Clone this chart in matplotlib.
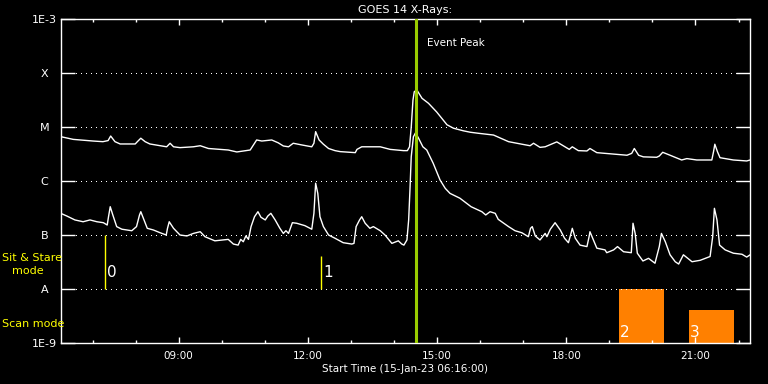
import matplotlib
matplotlib.use('Agg')
import matplotlib.pyplot as plt
from matplotlib.ticker import FixedLocator, NullLocator

# ---------------- data ----------------
# GOES 14 long channel (1-8 A), hours of day (15-Jan-23)
long_hours = [6.27, 6.55, 7.01, 7.24, 7.36, 7.42, 7.52, 7.64, 7.99, 8.04,
              8.12, 8.22, 8.33, 8.72, 8.80, 8.88, 9.03, 9.34, 9.50, 9.69,
              10.15, 10.35, 10.66, 10.81, 10.93, 11.16, 11.31, 11.43, 11.55, 11.66,
              11.86, 12.09, 12.14, 12.18, 12.26, 12.36, 12.48, 12.63, 12.75, 13.10,
              13.14, 13.25, 13.52, 13.68, 13.91, 14.22, 14.31, 14.36, 14.40, 14.44,
              14.47, 14.53, 14.65, 14.80, 14.99, 15.23, 15.38, 15.61, 15.77, 15.96,
              16.31, 16.66, 16.97, 17.16, 17.24, 17.39, 17.51, 17.78, 17.97, 18.07,
              18.14, 18.28, 18.48, 18.55, 18.71, 18.90, 19.10, 19.41, 19.52, 19.58,
              19.68, 19.79, 20.10, 20.16, 20.24, 20.41, 20.68, 20.80, 21.03, 21.38,
              21.42, 21.45, 21.51, 21.57, 21.88, 22.19, 22.27]
long_flux = [6.6e-6, 5.9e-6, 5.5e-6, 5.35e-6, 5.6e-6, 6.8e-6, 5.35e-6, 4.85e-6, 4.85e-6, 5.35e-6,
             6.2e-6, 5.35e-6, 4.85e-6, 4.3e-6, 5.0e-6, 4.3e-6, 4.15e-6, 4.3e-6, 4.5e-6, 4.0e-6,
             3.75e-6, 3.45e-6, 3.75e-6, 5.75e-6, 5.5e-6, 5.75e-6, 5.1e-6, 4.45e-6, 4.3e-6, 5.0e-6,
             4.65e-6, 4.3e-6, 5.0e-6, 8.2e-6, 5.75e-6, 4.8e-6, 4.0e-6, 3.65e-6, 3.5e-6, 3.35e-6,
             3.85e-6, 4.3e-6, 4.3e-6, 4.3e-6, 3.85e-6, 3.65e-6, 3.65e-6, 4.3e-6, 1.0e-5, 3.15e-5,
             4.5e-5, 4.85e-5, 3.4e-5, 2.75e-5, 1.9e-5, 1.1e-5, 9.5e-6, 8.5e-6, 8.0e-6, 7.65e-6,
             7.1e-6, 5.35e-6, 4.8e-6, 4.5e-6, 5.0e-6, 4.2e-6, 4.3e-6, 5.3e-6, 4.3e-6, 3.85e-6,
             4.3e-6, 3.65e-6, 3.6e-6, 4.0e-6, 3.35e-6, 3.25e-6, 3.15e-6, 3.0e-6, 3.25e-6, 4.0e-6,
             3.0e-6, 2.8e-6, 2.75e-6, 2.9e-6, 3.4e-6, 3.0e-6, 2.45e-6, 2.6e-6, 2.45e-6, 2.45e-6,
             3.5e-6, 4.8e-6, 3.5e-6, 2.7e-6, 2.45e-6, 2.35e-6, 2.45e-6]

# GOES 14 short channel (0.5-4 A)
short_hours = [6.27, 6.40, 6.59, 6.78, 6.94, 7.10, 7.25, 7.34, 7.37, 7.41,
               7.47, 7.56, 7.68, 7.91, 8.02, 8.09, 8.12, 8.18, 8.27, 8.41,
               8.57, 8.71, 8.74, 8.78, 8.88, 9.03, 9.19, 9.34, 9.50, 9.61,
               9.84, 10.15, 10.27, 10.38, 10.44, 10.50, 10.56, 10.62, 10.68, 10.76,
               10.84, 10.91, 11.01, 11.07, 11.14, 11.24, 11.35, 11.43, 11.49, 11.55,
               11.64, 11.74, 11.93, 12.09, 12.14, 12.18, 12.23, 12.28, 12.36, 12.48,
               12.63, 12.82, 13.02, 13.07, 13.12, 13.20, 13.25, 13.33, 13.44, 13.52,
               13.68, 13.79, 13.95, 14.10, 14.18, 14.23, 14.30, 14.34, 14.37, 14.40,
               14.45, 14.50, 14.57, 14.67, 14.76, 14.91, 15.07, 15.19, 15.30, 15.53,
               15.79, 16.04, 16.13, 16.23, 16.35, 16.42, 16.66, 16.81, 16.97, 17.12,
               17.17, 17.21, 17.28, 17.39, 17.51, 17.55, 17.63, 17.74, 17.86, 17.96,
               18.05, 18.11, 18.14, 18.21, 18.32, 18.48, 18.53, 18.55, 18.63, 18.71,
               18.90, 18.94, 19.10, 19.19, 19.33, 19.51, 19.55, 19.60, 19.65, 19.78,
               19.91, 20.06, 20.16, 20.21, 20.30, 20.41, 20.53, 20.61, 20.72, 20.92,
               21.11, 21.34, 21.40, 21.44, 21.50, 21.56, 21.69, 21.88, 22.08, 22.19,
               22.27]
short_flux = [2.5e-7, 2.25e-7, 1.9e-7, 1.76e-7, 1.9e-7, 1.76e-7, 1.69e-7, 1.53e-7, 2.18e-7, 3.34e-7,
              2.35e-7, 1.43e-7, 1.28e-7, 1.2e-7, 1.43e-7, 2.35e-7, 2.7e-7, 2.04e-7, 1.33e-7, 1.24e-7,
              1.1e-7, 1.0e-7, 1.33e-7, 1.76e-7, 1.33e-7, 1.0e-7, 9.6e-8, 1.07e-7, 1.15e-7, 9.3e-8,
              7.8e-8, 8.3e-8, 6.8e-8, 6.5e-8, 8.3e-8, 7.5e-8, 9.6e-8, 8.3e-8, 1.43e-7, 2.18e-7,
              2.7e-7, 2.13e-7, 1.9e-7, 2.25e-7, 2.52e-7, 1.9e-7, 1.33e-7, 1.07e-7, 1.2e-7, 1.07e-7,
              1.69e-7, 1.65e-7, 1.49e-7, 1.28e-7, 2.52e-7, 9.1e-7, 5.9e-7, 2.18e-7, 1.43e-7, 1.0e-7,
              8.7e-8, 7.2e-8, 6.8e-8, 7.0e-8, 1.43e-7, 1.9e-7, 2.18e-7, 1.65e-7, 1.33e-7, 1.43e-7,
              1.2e-7, 1.0e-7, 7.0e-8, 7.8e-8, 6.8e-8, 6.5e-8, 8.1e-8, 1.9e-7, 6.8e-7, 2.82e-6,
              6.6e-6, 7.8e-6, 6.2e-6, 4.3e-6, 3.75e-6, 2.13e-6, 1.04e-6, 7.3e-7, 5.9e-7, 4.8e-7,
              3.34e-7, 2.7e-7, 2.35e-7, 2.7e-7, 2.52e-7, 1.95e-7, 1.43e-7, 1.2e-7, 1.1e-7, 9.3e-8,
              1.33e-7, 1.43e-7, 9.6e-8, 8.1e-8, 1.07e-7, 9.3e-8, 1.28e-7, 1.69e-7, 1.24e-7, 8.7e-8,
              7.2e-8, 1.07e-7, 1.33e-7, 8.7e-8, 6.5e-8, 6.1e-8, 9.3e-8, 1.15e-7, 8.1e-8, 5.7e-8,
              5.3e-8, 4.7e-8, 5.3e-8, 6.1e-8, 4.9e-8, 4.7e-8, 1.65e-7, 1.07e-7, 4.6e-8, 3.3e-8,
              3.7e-8, 3.0e-8, 6.1e-8, 1.07e-7, 7.5e-8, 4.3e-8, 3.2e-8, 2.9e-8, 4.3e-8, 3.2e-8,
              3.4e-8, 4.0e-8, 9.3e-8, 3.12e-7, 1.9e-7, 6.5e-8, 5.3e-8, 4.6e-8, 4.4e-8, 3.9e-8,
              4.3e-8]

# axis
t_start, t_end = 6 + 16 / 60, 22 + 16 / 60
y_levels = [1e-9, 1e-8, 1e-7, 1e-6, 1e-5, 1e-4, 1e-3]
y_labels = ['1E-9', 'A', 'B', 'C', 'M', 'X', '1E-3']
x_major = [9, 12, 15, 18, 21]
x_major_labels = ['09:00', '12:00', '15:00', '18:00', '21:00']
x_minor = list(range(7, 23))

# event
event_peak = 14.5
# sit & stare observations
sit_ids = ['0', '1']
sit_hours = [7.30, 12.31]
sit_top = [1e-7, 4.1e-8]
# scan mode observations
scan_ids = ['2', '3']
scan_start = [19.23, 20.85]
scan_end = [20.27, 21.90]
scan_top = [1e-8, 4.1e-9]

# ---------------- figure ----------------
W, H = 768, 384
FONT = 'DejaVu Sans'
PX = 0.72  # one pixel in points
fig = plt.figure(figsize=(W / 100, H / 100), dpi=100, facecolor='black')
ax = fig.add_axes([61 / W, 1 - 343 / H, 689 / W, 324 / H], facecolor='black')
ax.set_yscale('log')
ax.set_xlim(t_start, t_end)
ax.set_ylim(1e-9, 1e-3)

# scan mode bars
ax.bar(scan_start, [t - 1e-9 for t in scan_top],
       width=[e - s for s, e in zip(scan_start, scan_end)],
       bottom=1e-9, align='edge', color='#ff8000', zorder=1)
for sid, s, top in zip(scan_ids, scan_start, scan_top):
    ax.text(s + 0.02, 1.55e-9, sid, color='white', fontsize=11,
            ha='left', va='center', family=FONT, zorder=5)

# grid lines at class levels
for lv in y_levels[1:-1]:
    ax.axhline(lv, color='white', lw=PX, ls=(0, (1, 5)), zorder=2, antialiased=False)

# sit & stare markers
ax.vlines(sit_hours, [1e-8] * len(sit_hours), sit_top, color='#ffff00', lw=1.0, zorder=3)
for sid, h in zip(sit_ids, sit_hours):
    ax.text(h + 0.04, 2.05e-8, sid, color='white', fontsize=11,
            ha='left', va='center', family=FONT, zorder=5)

# curves
ax.plot(long_hours, long_flux, color='white', lw=1.0, zorder=3)
ax.plot(short_hours, short_flux, color='white', lw=1.0, zorder=3)

# event peak
ax.axvline(event_peak, color='#99cc00', lw=2.2, zorder=4)
ax.text(event_peak + 0.26, 3.6e-4, 'Event Peak', color='white', fontsize=7.5,
        ha='left', va='center', family=FONT)

# axes styling
for sp in ax.spines.values():
    sp.set_color('white')
    sp.set_linewidth(1.0)

ax.yaxis.set_major_locator(FixedLocator(y_levels))
ax.yaxis.set_minor_locator(NullLocator())
ax.set_yticklabels(y_labels)
ax.tick_params(axis='y', which='major', direction='in', length=10, width=1,
               colors='white', left=True, right=True, pad=12, labelsize=8)
for lab in ax.get_yticklabels():
    lab.set_horizontalalignment('center')
    lab.set_family(FONT)

ax.xaxis.set_major_locator(FixedLocator(x_major))
ax.xaxis.set_minor_locator(FixedLocator(x_minor))
ax.set_xticklabels(x_major_labels)
ax.tick_params(axis='x', which='major', direction='in', length=4.6, width=1,
               colors='white', top=True, bottom=True, pad=6, labelsize=7.5)
ax.tick_params(axis='x', which='minor', direction='in', length=2.4, width=1,
               colors='white', top=True, bottom=True)
for lab in ax.get_xticklabels():
    lab.set_family(FONT)

# titles / labels
fig.text(405.5 / W, 1 - 10 / H, 'GOES 14 X-Rays:', color='white', fontsize=8,
         ha='center', va='center', family=FONT)
fig.text(405.5 / W, 1 - 368.5 / H, 'Start Time (15-Jan-23 06:16:00)', color='white',
         fontsize=7.5, ha='center', va='center', family=FONT)
fig.text(2 / W, 1 - 258 / H, 'Sit & Stare', color='#ffff00', fontsize=8,
         ha='left', va='center', family=FONT)
fig.text(12 / W, 1 - 271 / H, 'mode', color='#ffff00', fontsize=8,
         ha='left', va='center', family=FONT)
fig.text(2 / W, 1 - 324 / H, 'Scan mode', color='#ffff00', fontsize=8,
         ha='left', va='center', family=FONT)

fig.savefig('out.png', dpi=100, facecolor='black')
